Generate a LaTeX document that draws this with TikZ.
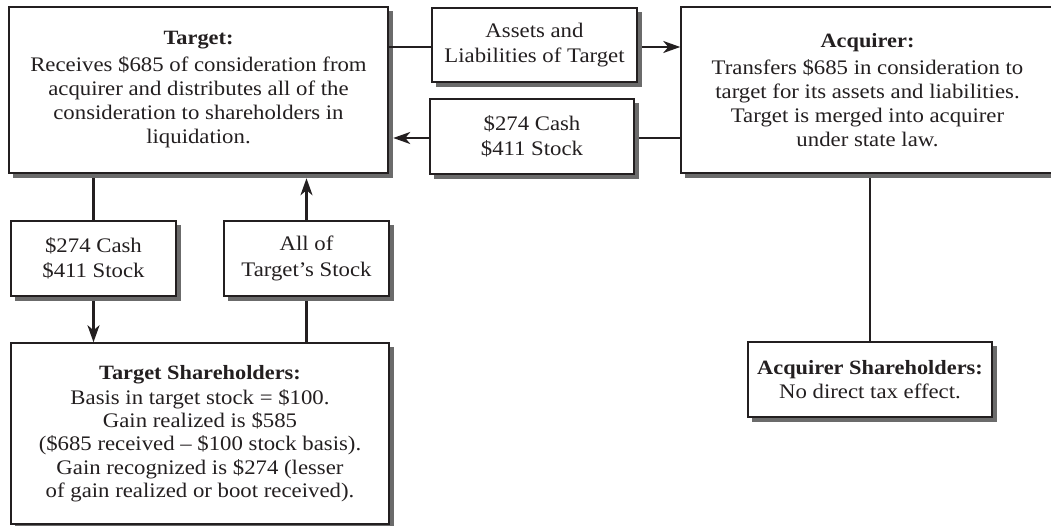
\documentclass[tikz,border=0pt]{standalone}
\usepackage{fontspec}
\setmainfont{Liberation Serif}[FakeStretch=1.1]
\usetikzlibrary{arrows.meta}
\definecolor{ink}{HTML}{231F20}
\colorlet{shgray}{black!58}
\newcommand{\ttl}[1]{{\fontsize{20.3}{24}\selectfont\bfseries #1}}
\newcommand{\shadowL}[1]{%
  \fill[shgray] ([shift={(0.7pt,-4.5pt)}]#1.north east) rectangle ([shift={(4.5pt,-4.5pt)}]#1.south east);
  \fill[shgray] ([shift={(4.5pt,-0.7pt)}]#1.south west) rectangle ([shift={(4.5pt,-4.5pt)}]#1.south east);}
\begin{document}
\begin{tikzpicture}[x=1pt,y=-1pt,
  box/.style={draw=ink,line width=1.5pt,fill=white,inner sep=0pt,align=center,text=ink,
    font=\fontsize{20.7}{24}\selectfont},
  twoline/.style={font=\fontsize{20.7}{25.5}\selectfont},
  conn/.style={draw=ink,line width=2.4pt},
  arr/.style={conn,-{Stealth[length=17pt,width=12pt,inset=5pt]}}]
\useasboundingbox (0,0) rectangle (1051,526);
% boxes
\node[box,minimum width=379pt,minimum height=166pt] (tgt) at (198.5,90)
  {\ttl{Target:}\\[3pt]Receives \$685 of consideration from\\acquirer and distributes all of the\\consideration to shareholders in\\liquidation.};
\node[box,twoline,minimum width=205pt,minimum height=74pt] (assets) at (534.5,45)
  {Assets and\\Liabilities of Target};
\node[box,twoline,minimum width=204pt,minimum height=75pt] (pay) at (532,136.5)
  {\$274 Cash\\\$411 Stock};
\node[box,minimum width=373pt,minimum height=166pt] (acq) at (867.5,90)
  {\ttl{Acquirer:}\\[3pt]Transfers \$685 in consideration to\\target for its assets and liabilities.\\Target is merged into acquirer\\under state law.};
\node[box,minimum width=244pt,minimum height=75pt] (acqsh) at (870,379.5)
  {\ttl{Acquirer Shareholders:}\\No direct tax effect.};
\node[box,twoline,minimum width=165pt,minimum height=75pt] (cash2) at (93.5,258.5)
  {\$274 Cash\\\$411 Stock};
\node[box,twoline,minimum width=165pt,minimum height=75pt] (allof) at (306.5,258.5)
  {All of\\Target's Stock};
\node[box,font=\fontsize{20.7}{23.3}\selectfont,minimum width=378pt,minimum height=181pt] (tsh) at (200,433.5)
  {\ttl{Target Shareholders:}\\[2pt]Basis in target stock = \$100.\\Gain realized is \$585\\(\$685 received -- \$100 stock basis).\\Gain recognized is \$274 (lesser\\of gain realized or boot received).};
% shadows
\shadowL{tgt}\shadowL{assets}\shadowL{pay}\shadowL{acq}
\shadowL{acqsh}\shadowL{cash2}\shadowL{allof}\shadowL{tsh}
\coordinate (ytop) at (0,47);
\coordinate (ybot) at (0,138);
% connectors
\draw[conn] (tgt.east |- ytop) -- (assets.west |- ytop);
\draw[arr] ([xshift=4.5pt]assets.east |- ytop) -- (acq.west |- ytop);
\draw[conn] (acq.west |- ybot) -- ([xshift=4.5pt]pay.east |- ybot);
\draw[arr] (pay.west |- ybot) -- ([xshift=4.5pt]tgt.east |- ybot);
\draw[conn] ([yshift=-4.5pt]tgt.south -| cash2.north) -- (cash2.north);
\draw[arr] ([yshift=-4.5pt]cash2.south) -- (tsh.north -| cash2.south);
\draw[conn] (tsh.north -| allof.south) -- ([yshift=-4.5pt]allof.south);
\draw[arr] (allof.north) -- ([yshift=-4.5pt]tgt.south -| allof.north);
\draw[conn] ([yshift=-4.5pt]acq.south -| acqsh.north) -- (acqsh.north);
\end{tikzpicture}
\end{document}
